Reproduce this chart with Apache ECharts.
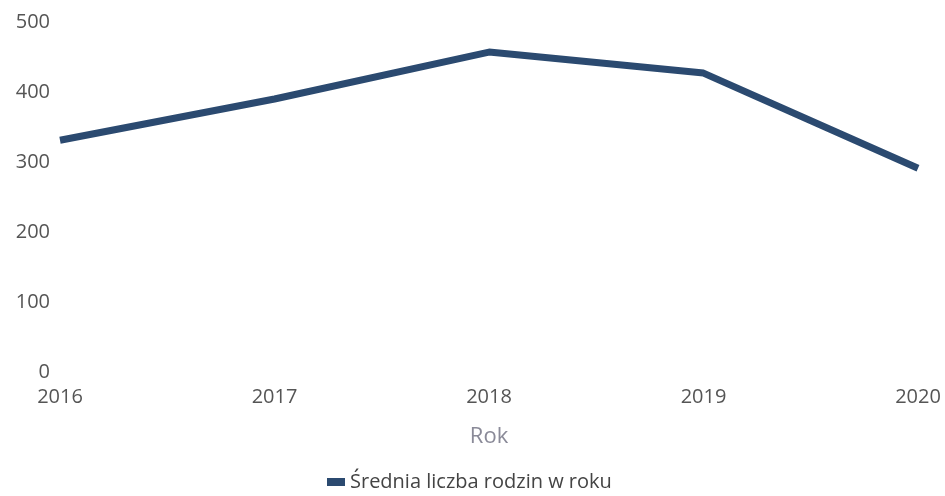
<!DOCTYPE html>
<html><head><meta charset="utf-8">
<script src="https://cdn.jsdelivr.net/npm/echarts@6/dist/echarts.min.js"></script>
<style>html,body{margin:0;padding:0;background:#fff}#c{width:945px;height:496px}</style>
</head><body><div id="c"></div>
<script>
const years = ['2016','2017','2018','2019','2020'];
const values = [331, 390, 457, 427, 291];
const yTicks = [0, 100, 200, 300, 400, 500];
const seriesName = 'Średnia liczba rodzin w roku';
const axisName = 'Rok';

const chart = echarts.init(document.getElementById('c'));
chart.setOption({
  animation: false,
  textStyle: {fontFamily: 'Open Sans'},
  grid: {left: 60, right: 27, top: 22, bottom: 124},
  xAxis: {
    type: 'category', data: years, boundaryGap: false,
    name: axisName, nameLocation: 'middle', nameGap: 54,
    nameTextStyle: {color: '#8a8a98', fontSize: 22, fontFamily: 'Open Sans'},
    axisLine: {show: false}, axisTick: {show: false},
    axisLabel: {color: '#555', fontSize: 20, margin: 15, fontFamily: 'Open Sans'}
  },
  yAxis: {
    type: 'value', min: yTicks[0], max: yTicks[yTicks.length-1], interval: 100,
    splitLine: {show: false}, axisLine: {show: false}, axisTick: {show: false},
    axisLabel: {color: '#555', fontSize: 20, margin: 10, fontFamily: 'Open Sans'}
  },
  legend: {
    top: 467, left: 322, itemWidth: 18, itemHeight: 8, itemGap: 10,
    icon: 'rect',
    textStyle: {color: '#444', fontSize: 20, fontFamily: 'Open Sans'},
    data: [seriesName]
  },
  series: [{
    name: seriesName, type: 'line', data: values,
    showSymbol: false, symbol: 'none',
    lineStyle: {color: '#2b4a70', width: 7},
    itemStyle: {color: '#2b4a70'}
  }]
});
</script></body></html>
